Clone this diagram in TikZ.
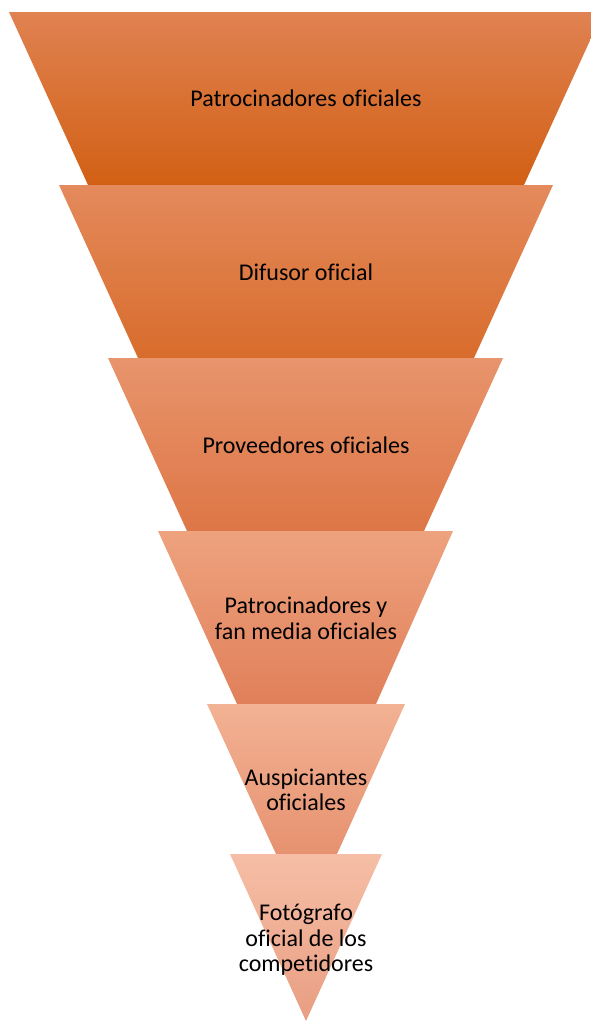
\documentclass[tikz,border=0pt]{standalone}
\usepackage{fontspec}
\setmainfont{Carlito}[Ligatures=NoCommon]
\definecolor{lvaTop}{RGB}{224,130,82}
\definecolor{lvaMid}{RGB}{222,108,36}
\definecolor{lvaBot}{RGB}{210,96,20}
\definecolor{lvbTop}{RGB}{228,138,92}
\definecolor{lvbMid}{RGB}{228,122,58}
\definecolor{lvbBot}{RGB}{216,108,44}
\definecolor{lvcTop}{RGB}{232,148,108}
\definecolor{lvcMid}{RGB}{234,134,86}
\definecolor{lvcBot}{RGB}{222,118,70}
\definecolor{lvdTop}{RGB}{238,162,126}
\definecolor{lvdMid}{RGB}{236,148,108}
\definecolor{lvdBot}{RGB}{224,128,90}
\definecolor{lveTop}{RGB}{242,178,148}
\definecolor{lveMid}{RGB}{242,164,130}
\definecolor{lveBot}{RGB}{230,146,112}
\definecolor{lvfTop}{RGB}{246,190,166}
\definecolor{lvfMid}{RGB}{244,176,150}
\definecolor{lvfBot}{RGB}{232,158,130}

\begin{document}
\begin{tikzpicture}[x=1pt,y=-1pt]
			\tikzset{levtext/.style = {align=center, font=\fontsize{24}{25.5}\selectfont}}

			\useasboundingbox (0,0) rectangle (591,1021);

			\shade[top color=lvaTop, middle color=lvaMid, bottom color=lvaBot] (9,12) -- (603,12) -- (524,185) -- (88,185) -- cycle;
			\shade[top color=lvbTop, middle color=lvbMid, bottom color=lvbBot] (59,185) -- (553,185) -- (474,358) -- (138,358) -- cycle;
			\shade[top color=lvcTop, middle color=lvcMid, bottom color=lvcBot] (108,358) -- (503,358) -- (424,531) -- (187,531) -- cycle;
			\shade[top color=lvdTop, middle color=lvdMid, bottom color=lvdBot] (158,531) -- (453,531) -- (376,704) -- (237,704) -- cycle;
			\shade[top color=lveTop, middle color=lveMid, bottom color=lveBot] (207,704) -- (405,704) -- (337,854) -- (276,854) -- cycle;
			\shade[top color=lvfTop, middle color=lvfMid, bottom color=lvfBot] (230,854) -- (382,854) -- (306,1021) -- cycle;

			\node[levtext] (t1) at (306,98) {Patrocinadores oficiales};
			\node[levtext] (t2) at (306,272) {Difusor oficial};
			\node[levtext] (t3) at (306,445) {Proveedores oficiales};
			\node[levtext] (t4) at (306,618) {Patrocinadores y\\fan media oficiales};
			\node[levtext] (t5) at (306,790) {Auspiciantes\\oficiales};
			\node[levtext] (t6) at (306,940) {Fotógrafo\\oficial de los\\competidores};
		\end{tikzpicture}
\end{document}
